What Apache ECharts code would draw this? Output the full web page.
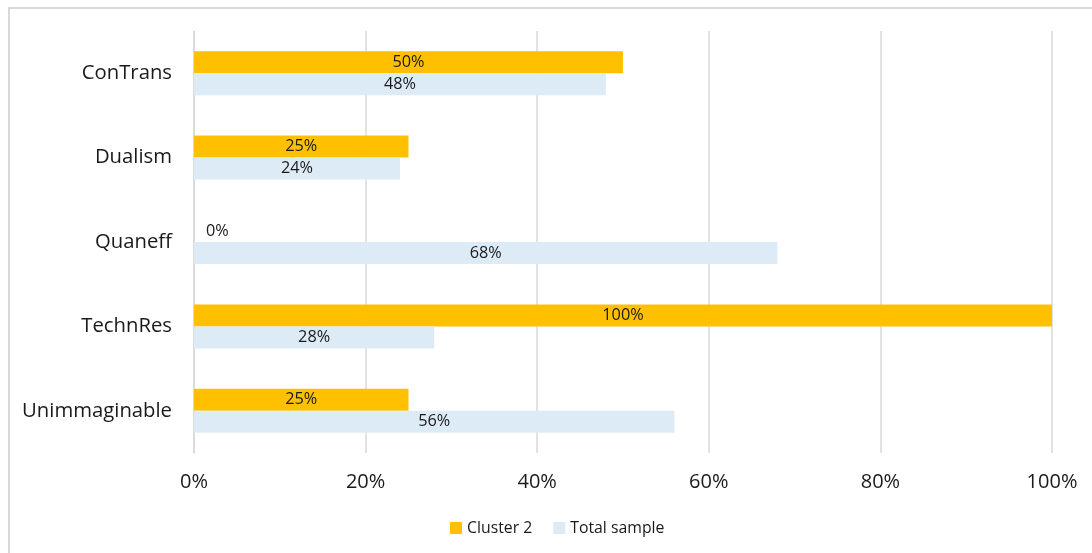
<!DOCTYPE html>
<html>
<head>
<meta charset="utf-8">
<script src="https://cdn.jsdelivr.net/npm/echarts@6/dist/echarts.min.js"></script>
<style>
  html, body { margin: 0; padding: 0; background: #fff; }
  #frame { position: absolute; left: 8px; top: 7px; width: 1100px; height: 560px; border: 2px solid #d9d9d9; box-sizing: border-box; }
  #chart { position: absolute; left: 0; top: 0; width: 1092px; height: 553px; }
</style>
</head>
<body>
<div id="frame"></div>
<div id="chart"></div>
<script>
const categories = ['ConTrans', 'Dualism', 'Quaneff', 'TechnRes', 'Unimmaginable'];
const cluster2 = [50, 25, 0, 100, 25];
const totalSample = [48, 24, 68, 28, 56];
const xTicks = [0, 20, 40, 60, 80, 100];

const FONT = '"Open Sans", Lato, sans-serif';

// a zero-length bar has no room inside, so its label sits just to the right of the axis
function toData(values) {
  return values.map(v => v === 0
    ? { value: v, label: { position: 'right', distance: 12 } }
    : v);
}

const chart = echarts.init(document.getElementById('chart'), null, { renderer: 'canvas' });
chart.setOption({
  animation: false,
  grid: { left: 194, right: 40, top: 31, bottom: 100, containLabel: false },
  xAxis: {
    type: 'value',
    min: xTicks[0],
    max: xTicks[xTicks.length - 1],
    interval: 20,
    axisLine: { show: false },
    axisTick: { show: false },
    splitLine: { show: true, lineStyle: { color: '#d9d9d9', width: 1.5 } },
    axisLabel: {
      formatter: v => v + '%',
      fontFamily: FONT, fontSize: 20, color: '#1a1a1a', margin: 19
    }
  },
  yAxis: {
    type: 'category',
    data: categories,
    inverse: true,
    axisLine: { show: true, lineStyle: { color: '#d9d9d9', width: 1.5 } },
    axisTick: { show: false },
    axisLabel: { fontFamily: FONT, fontSize: 20.3, color: '#1a1a1a', margin: 22, padding: [2, 0, 0, 0] }
  },
  legend: {
    bottom: 17,
    left: 450,
    padding: 0,
    itemWidth: 12,
    itemHeight: 12,
    itemGap: 21,
    icon: 'rect',
    textStyle: { fontFamily: FONT, fontSize: 15.8, color: '#1a1a1a' },
    data: ['Cluster 2', 'Total sample']
  },
  series: [
    {
      name: 'Cluster 2',
      type: 'bar',
      data: toData(cluster2),
      barWidth: 22,
      barGap: '0%',
      itemStyle: { color: '#ffc000' },
      label: {
        show: true, position: 'inside', formatter: '{c}%',
        fontFamily: FONT, fontSize: 16.3, color: '#1a1a1a'
      }
    },
    {
      name: 'Total sample',
      type: 'bar',
      data: toData(totalSample),
      barWidth: 22,
      barGap: '0%',
      itemStyle: { color: '#ddebf7' },
      label: {
        show: true, position: 'inside', formatter: '{c}%',
        fontFamily: FONT, fontSize: 16.3, color: '#1a1a1a'
      }
    }
  ]
});
</script>
</body>
</html>
